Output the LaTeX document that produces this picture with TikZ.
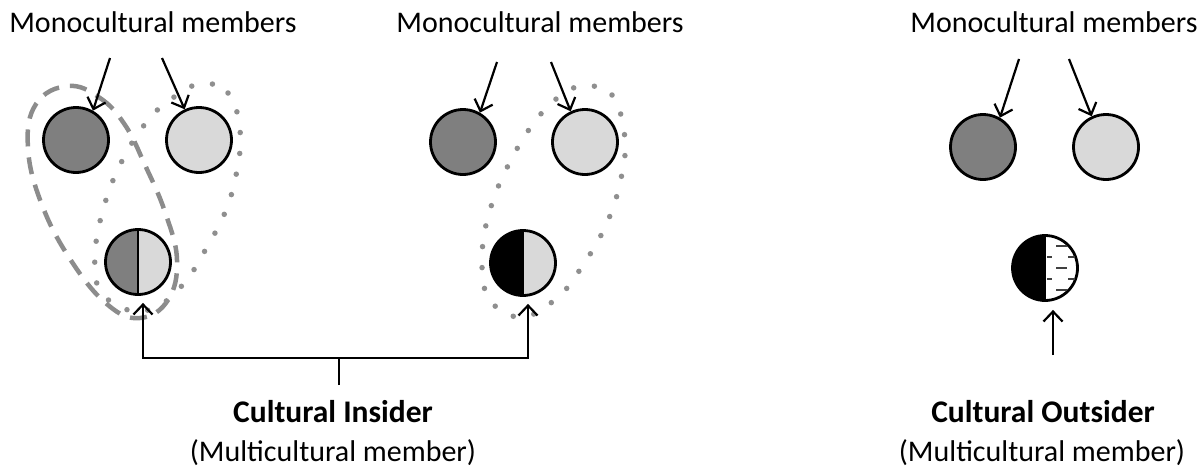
\documentclass[tikz,border=0pt]{standalone}
\usepackage{fontspec}
\setmainfont{Carlito}
\usetikzlibrary{arrows.meta,calc}
\definecolor{darkg}{HTML}{7F7F7F}
\definecolor{lightg}{HTML}{D9D9D9}
\definecolor{loopg}{HTML}{8C8C8C}
\definecolor{dotg}{HTML}{8F8F8F}
\definecolor{hatchg}{HTML}{404040}
\tikzset{
  lbl/.style={font=\fontsize{30}{36}\selectfont, inner sep=0pt},
  blbl/.style={font=\fontsize{31.5}{36}\selectfont\bfseries, inner sep=0pt},
  ball/.style={circle, draw=black, line width=2.8pt, minimum size=65pt, inner sep=0pt},
  darkball/.style={ball, fill=darkg},
  lightball/.style={ball, fill=lightg},
  halfball/.style 2 args={ball, path picture={
     \fill[#1] (path picture bounding box.south west) rectangle (path picture bounding box.north);
     \fill[#2] (path picture bounding box.south) rectangle (path picture bounding box.north east);
     \draw[line width=2.4pt] (path picture bounding box.north) -- (path picture bounding box.south);}},
  arr/.style={line width=2.2pt, -{Straight Barb[length=10pt,width=19pt]}},
  link/.style={line width=2.2pt},
  dashloop/.style={draw=loopg, line width=4.5pt, dash pattern=on 17pt off 11pt},
  dotloop/.style={draw=dotg, line width=5.5pt, line cap=round, dash pattern=on 0pt off 21pt},
}
\begin{document}
\begin{tikzpicture}[x=1pt,y=-1pt]
\useasboundingbox (0,0) rectangle (1204,469);
% loops (behind)
\draw[dashloop] plot[smooth cycle, tension=0.7] coordinates {(68,86) (100,98) (125,125) (145,165) (165,212) (177,260) (168,300) (140,318) (108,305) (72,262) (42,205) (28,148) (36,104)};
\draw[dotloop] plot[smooth cycle, tension=0.7] coordinates {(200,84) (228,93) (240,130) (237,170) (226,210) (207,247) (185,282) (158,306) (128,310) (100,290) (95,255) (103,210) (120,165) (145,124) (170,100)};
\draw[dotloop] plot[smooth cycle, tension=0.7] coordinates {(585,86) (612,95) (625,140) (619,187) (605,227) (583,265) (558,297) (522,317) (490,300) (482,260) (490,210) (512,158) (540,115) (565,93)};
% labels
\node[lbl] (m1) at (153,22) {Monocultural members};
\node[lbl] (m2) at (540,22) {Monocultural members};
\node[lbl] (m3) at (1054,22) {Monocultural members};
% circles
\node[darkball] (d1) at (76,140) {};
\node[lightball] (l1) at (199,140) {};
\node[halfball={darkg}{lightg}] (s1) at (138,262) {};
\node[darkball] (d2) at (463,142) {};
\node[lightball] (l2) at (585,142) {};
\node[halfball={black}{lightg}] (s2) at (523,263) {};
\node[darkball] (d3) at (983,147) {};
\node[lightball] (l3) at (1106,147) {};
\node[halfball={black}{white}] (s3) at (1045,268) {};
\begin{scope}[shift={(s3.center)}, draw=hatchg, line width=2.4pt]
  \draw (11,-22) -- (22,-22);
  \draw (2,-11) -- (7,-11); \draw (23,-11) -- (30,-11);
  \draw (11,0) -- (22,0);
  \draw (2,11) -- (7,11); \draw (23,11) -- (30,11);
  \draw (11,22) -- (22,22);
\end{scope}
% top arrows
\coordinate (a1) at (110,58); \coordinate (a2) at (162,58);
\coordinate (a3) at (497,62); \coordinate (a4) at (551,62);
\coordinate (a5) at (1019,59); \coordinate (a6) at (1069,59);
\draw[arr] (a1) -- (d1.60);
\draw[arr] (a2) -- (l1.115);
\draw[arr] (a3) -- (d2.60);
\draw[arr] (a4) -- (l2.115);
\draw[arr] (a5) -- (d3.60);
\draw[arr] (a6) -- (l3.115);
% bottom bracket
\coordinate (jb) at (339,385);
\coordinate (j) at (339,358);
\draw[link] (jb) -- (j);
\draw[arr] (j) -| ([shift={(5pt,-7pt)}]s1.south);
\draw[arr] (j) -| ([shift={(5pt,-7pt)}]s2.south);
\coordinate (ob) at (1053,355);
\draw[arr] (ob) -- ([shift={(8pt,-8pt)}]s3.south);
% bottom labels
\node[blbl] (ci) at (333,412) {Cultural Insider};
\node[lbl] (cim) at (333,453) {(Multicultural member)};
\node[blbl] (co) at (1043,412) {Cultural Outsider};
\node[lbl] (com) at (1042,453) {(Multicultural member)};
\end{tikzpicture}
\end{document}
